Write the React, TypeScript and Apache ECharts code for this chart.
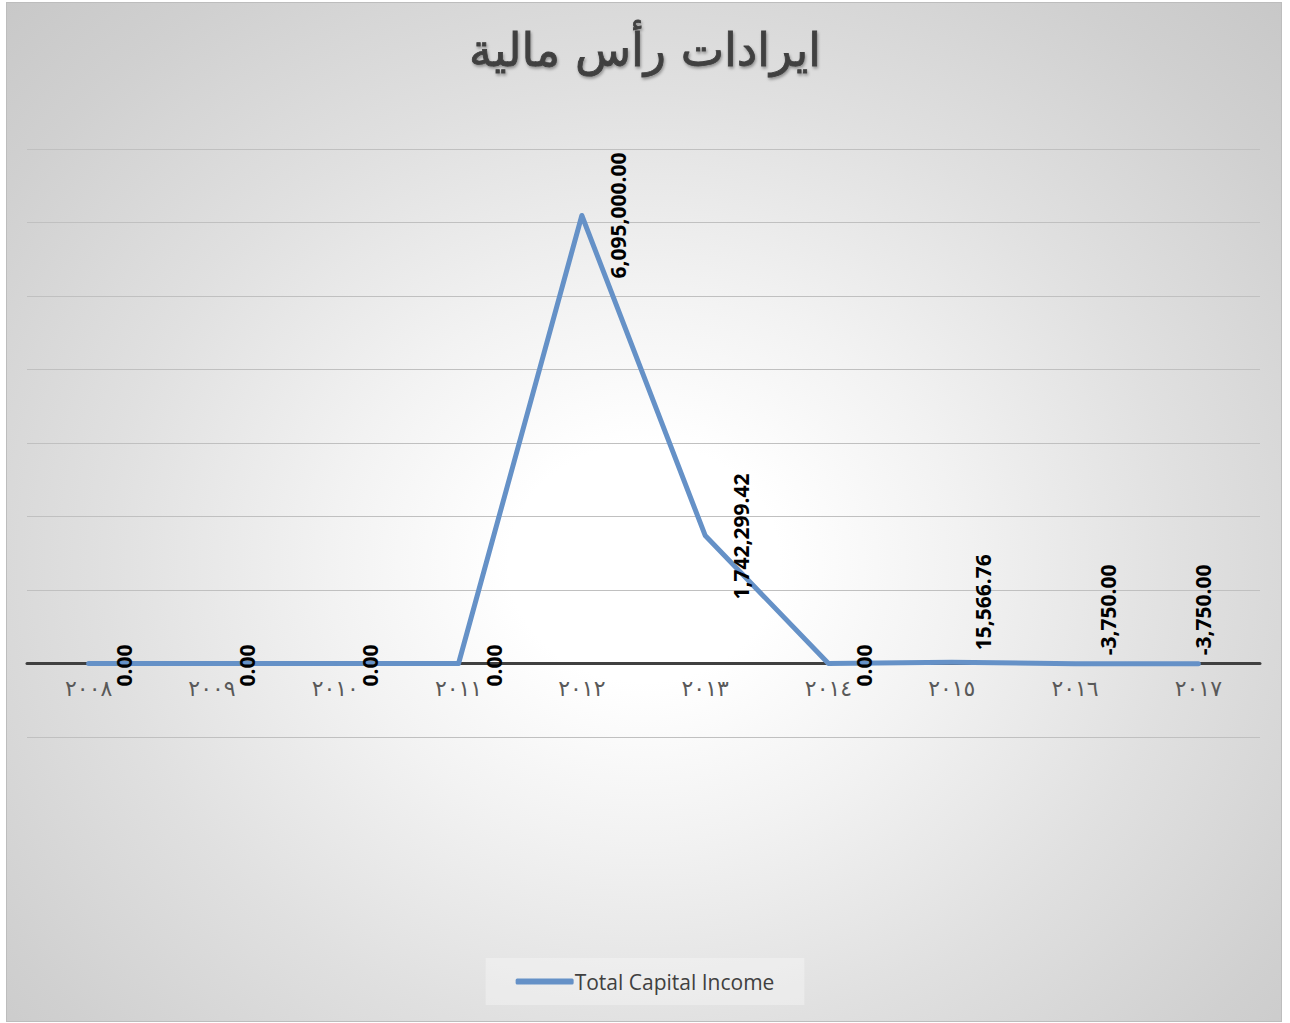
import React, { useEffect, useRef } from "react";
import * as echarts from "echarts";

const titleText = "ايرادات رأس مالية";
const categories = ["٢٠٠٨", "٢٠٠٩", "٢٠١٠", "٢٠١١", "٢٠١٢", "٢٠١٣", "٢٠١٤", "٢٠١٥", "٢٠١٦", "٢٠١٧"];
const seriesName = "Total Capital Income";
const values = [0, 0, 0, 0, 6095000, 1742299.42, 0, 15566.76, -3750, -3750];
// label offsets in label-local coords [up, right] (label rotated 90°)
const labelOffsets: [number, number][] = [
  [-2, 35], [-2, 35], [-2, 35], [-2, 35], [0, 36], [-1, 36], [-2, 36], [60, 31], [54, 33], [54, 5],
];

const fmt = (v: number) =>
  v.toLocaleString("en-US", { minimumFractionDigits: 2, maximumFractionDigits: 2 });

export default function App() {
  const ref = useRef<HTMLDivElement>(null);
  useEffect(() => {
    if (!ref.current) return;
    const chart = echarts.init(ref.current, null, { renderer: "svg" });
    chart.setOption({
      animation: false,
      title: {
        text: titleText,
        left: "center",
        top: 22,
        textStyle: {
          fontFamily: "DejaVu Sans",
          fontSize: 46,
          fontWeight: "normal",
          color: "#404040",
          textBorderColor: "#404040",
          textBorderWidth: 0.8,
          textShadowColor: "rgba(0,0,0,0.35)",
          textShadowBlur: 3,
          textShadowOffsetX: 1,
          textShadowOffsetY: 2,
        },
      },
      legend: {
        data: [seriesName],
        top: 958,
        left: "center",
        padding: [13, 30],
        backgroundColor: "rgba(255,255,255,0.3)",
        icon: "roundRect",
        itemWidth: 58,
        itemHeight: 6,
        itemGap: 5,
        textStyle: { fontFamily: "Open Sans", fontSize: 21, color: "#404040", padding: [0, 0, 0, -4] },
      },
      grid: { left: 27, right: 30, top: 149, bottom: 286, containLabel: false },
      xAxis: {
        type: "category",
        data: categories,
        boundaryGap: true,
        position: "bottom",
        offset: -74,
        axisLine: { onZero: false, lineStyle: { color: "#404040", width: 3 } },
        axisTick: { show: false },
        axisLabel: { color: "#595959", fontFamily: "DejaVu Sans", fontSize: 22, margin: 14 },
        splitLine: { show: false },
      },
      yAxis: {
        type: "value",
        min: -1000000,
        max: 7000000,
        interval: 1000000,
        axisLabel: { show: false },
        axisLine: { show: false },
        axisTick: { show: false },
        splitLine: { lineStyle: { color: "#c0c0c0", width: 1 } },
      },
      series: [
        {
          name: seriesName,
          type: "line",
          data: values.map((v, i) => ({
            value: v,
            label: { offset: labelOffsets[i] },
          })),
          symbol: "circle",
          symbolSize: 2,
          showSymbol: true,
          itemStyle: { color: "#6591c7" },
          lineStyle: { color: "#6591c7", width: 5, cap: "round", join: "round" },
          label: {
            show: true,
            position: "inside",
            rotate: 90,
            align: "center",
            verticalAlign: "middle",
            fontFamily: "Open Sans",
            fontWeight: "bold",
            fontSize: 21,
            color: "#000000",
            formatter: (p: any) => fmt(p.value),
          },
        },
      ],
    });
    return () => chart.dispose();
  }, []);

  return (
    <div style={{ position: "absolute", left: 0, top: 0, width: 1290, height: 1023 }}>
      <div
        style={{
          position: "absolute",
          left: 6,
          top: 2,
          width: 1274,
          height: 1018,
          border: "1px solid #bdbdbd",
          background:
            "radial-gradient(ellipse farthest-corner at 50% 55%, #ffffff 0%, #ffffff 15%, #f2f2f2 35%, #e0e0e0 60%, #d0d0d0 85%, #c8c8c8 100%)",
        }}
      />
      <div ref={ref} style={{ position: "absolute", left: 0, top: 0, width: 1290, height: 1023 }} />
    </div>
  );
}
